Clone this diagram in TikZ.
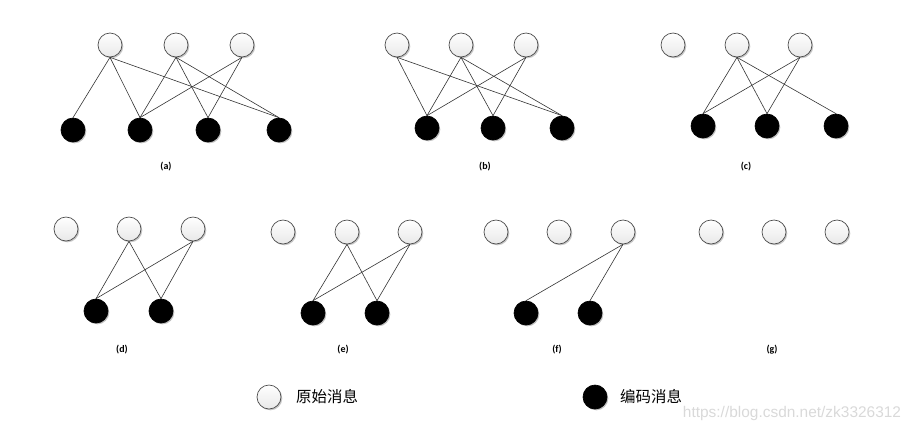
\documentclass[tikz,border=0pt]{standalone}
\usepackage{fontspec}
\setmainfont{Carlito}
\newfontfamily\cjkfont{Noto Sans CJK SC}
\newfontfamily\wmfont{Liberation Sans}
\usetikzlibrary{shadows}
\begin{document}
\begin{tikzpicture}[x=1bp,y=-1bp,
  msg/.style={circle, draw=black!70, line width=0.7bp, minimum size=24bp, inner sep=0pt,
    top color=white, bottom color=black!9,
    drop shadow={shadow xshift=1.3bp, shadow yshift=-1.3bp, opacity=0.22, fill=black}},
  cod/.style={circle, draw=black, fill=black, line width=0.7bp, minimum size=24bp, inner sep=0pt,
    drop shadow={shadow xshift=1.3bp, shadow yshift=-1.3bp, opacity=0.25, fill=black}},
  link/.style={draw=black!80, line width=0.6bp},
  lab/.style={font=\bfseries\fontsize{10}{11}\selectfont},
  legtext/.style={anchor=west, inner sep=0pt, font=\cjkfont\fontsize{15.5}{17}\selectfont},
]
\useasboundingbox (0,0) rectangle (913,430);
% (a)
\node[msg] (aT1) at (110,45) {};
\node[msg] (aT2) at (176,45) {};
\node[msg] (aT3) at (242,45) {};
\node[cod] (aB1) at (73,130) {};
\node[cod] (aB2) at (140,130) {};
\node[cod] (aB3) at (208,130) {};
\node[cod] (aB4) at (279,130) {};
\foreach \s/\t in {aT1/aB1,aT1/aB2,aT1/aB4,aT2/aB2,aT2/aB3,aT2/aB4,aT3/aB2,aT3/aB3}
  \draw[link] (\s.south) -- (\t.north);
\node[lab] (la) at (166,167) {(a)};
% (b)
\node[msg] (bT1) at (397,45) {};
\node[msg] (bT2) at (461,45) {};
\node[msg] (bT3) at (526,45) {};
\node[cod] (bB1) at (427,128) {};
\node[cod] (bB2) at (493,128) {};
\node[cod] (bB3) at (562,128) {};
\foreach \s/\t in {bT1/bB1,bT1/bB3,bT2/bB1,bT2/bB2,bT2/bB3,bT3/bB1,bT3/bB2}
  \draw[link] (\s.south) -- (\t.north);
\node[lab] (lb) at (485,167) {(b)};
% (c)
\node[msg] (cT1) at (673,45) {};
\node[msg] (cT2) at (737,45) {};
\node[msg] (cT3) at (800,45) {};
\node[cod] (cB1) at (703,126) {};
\node[cod] (cB2) at (767,126) {};
\node[cod] (cB3) at (836,126) {};
\foreach \s/\t in {cT2/cB1,cT2/cB2,cT2/cB3,cT3/cB1,cT3/cB2}
  \draw[link] (\s.south) -- (\t.north);
\node[lab] (lc) at (746,167) {(c)};
% (d)
\node[msg] (dT1) at (66,229) {};
\node[msg] (dT2) at (129,229) {};
\node[msg] (dT3) at (193,229) {};
\node[cod] (dB1) at (96,311) {};
\node[cod] (dB2) at (161,311) {};
\foreach \s/\t in {dT2/dB1,dT2/dB2,dT3/dB1,dT3/dB2}
  \draw[link] (\s.south) -- (\t.north);
\node[lab] (ld) at (122,350) {(d)};
% (e)
\node[msg] (eT1) at (283,232) {};
\node[msg] (eT2) at (347,232) {};
\node[msg] (eT3) at (410,232) {};
\node[cod] (eB1) at (313,313) {};
\node[cod] (eB2) at (377,313) {};
\foreach \s/\t in {eT2/eB1,eT2/eB2,eT3/eB1,eT3/eB2}
  \draw[link] (\s.south) -- (\t.north);
\node[lab] (le) at (343,350) {(e)};
% (f)
\node[msg] (fT1) at (496,232) {};
\node[msg] (fT2) at (559,232) {};
\node[msg] (fT3) at (623,232) {};
\node[cod] (fB1) at (526,313) {};
\node[cod] (fB2) at (590,313) {};
\foreach \s/\t in {fT3/fB1,fT3/fB2}
  \draw[link] (\s.south) -- (\t.north);
\node[lab] (lf) at (557,350) {(f)};
% (g)
\node[msg] (gT1) at (711,232) {};
\node[msg] (gT2) at (774,232) {};
\node[msg] (gT3) at (837,232) {};
\node[lab] (lg) at (772,350) {(g)};
% legend
\node[msg] (legW) at (269,397) {};
\node[legtext] (legWt) at (296,397) {原始消息};
\node[cod] (legB) at (595,397) {};
\node[legtext] (legBt) at (620,397) {编码消息};
% watermark
\node[text=black!15, font=\wmfont\fontsize{15.5}{17}\selectfont, inner sep=0pt] (wm) at (792,413) {https://blog.csdn.net/zk3326312};
\end{tikzpicture}
\end{document}
